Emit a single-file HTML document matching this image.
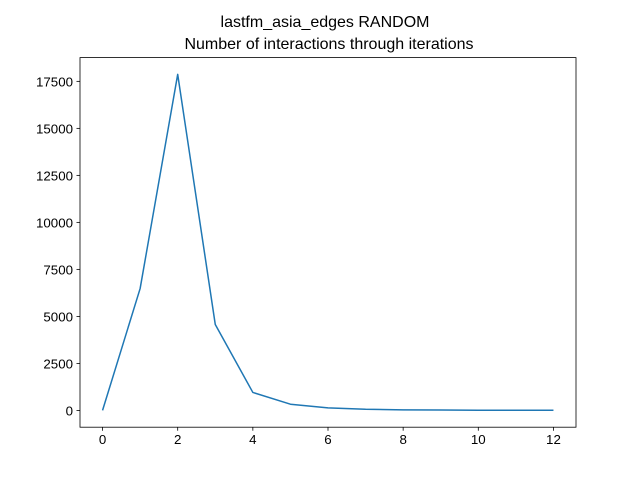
<!DOCTYPE html>
<html><head><meta charset="utf-8"><style>
body{margin:0;background:#fff;}
svg{display:block;font-family:"Liberation Sans","DejaVu Sans",sans-serif;}
</style></head><body>
<svg id="chart" width="640" height="480">
<rect width="640" height="480" fill="#fff"/>
<text x="325" y="27" text-anchor="middle" font-size="16">lastfm_asia_edges RANDOM</text>
<text x="329" y="49" text-anchor="middle" font-size="16">Number of interactions through iterations</text>
<g id="axes"></g>
</svg>
<script>
const xValues=[0,1,2,3,4,5,6,7,8,9,10,11,12];
const yValues=[0,6480,17870,4570,955,330,135,60,30,20,10,5,5];
const xTicks=[0,2,4,6,8,10,12];
const yTicks=[0,2500,5000,7500,10000,12500,15000,17500];
const L=80,R=576,T=57.6,B=427.2;
const xMin=-0.6,xMax=12.6;
const yMax0=Math.max(...yValues),yMin0=Math.min(...yValues),pad=(yMax0-yMin0)*0.05;
const yMin=yMin0-pad,yMax=yMax0+pad;
const sx=v=>L+(v-xMin)/(xMax-xMin)*(R-L);
const sy=v=>B-(v-yMin)/(yMax-yMin)*(B-T);
const g=document.getElementById('axes');
const NS='http://www.w3.org/2000/svg';
function mk(t,a){const e=document.createElementNS(NS,t);for(const k in a)e.setAttribute(k,a[k]);g.appendChild(e);return e;}
xTicks.forEach(v=>{
 const x=sx(v);
 const l=mk('line',{x1:x,x2:x,y1:B,y2:B+3.5,stroke:'#000','stroke-width':0.8});
 
 
 const t=mk('text',{x:x,y:B+17,'text-anchor':'middle','font-size':13.3});
 t.textContent=v;
 
 
});
yTicks.forEach(v=>{
 const y=sy(v);
 const l=mk('line',{x1:L-3.5,x2:L,y1:y,y2:y,stroke:'#000','stroke-width':0.8});
 
 
 const t=mk('text',{x:L-7,y:y+5,'text-anchor':'end','font-size':13.3});
 t.textContent=v;
 
 
});
const pts=xValues.map((x,i)=>sx(x)+','+sy(yValues[i])).join(' ');
const line=mk('polyline',{points:pts,fill:'none',stroke:'#1f77b4','stroke-width':1.5,'stroke-linejoin':'round'});


const frame=mk('rect',{x:L,y:T,width:R-L,height:B-T,fill:'none',stroke:'#000','stroke-width':0.8});


</script>
</body></html>
